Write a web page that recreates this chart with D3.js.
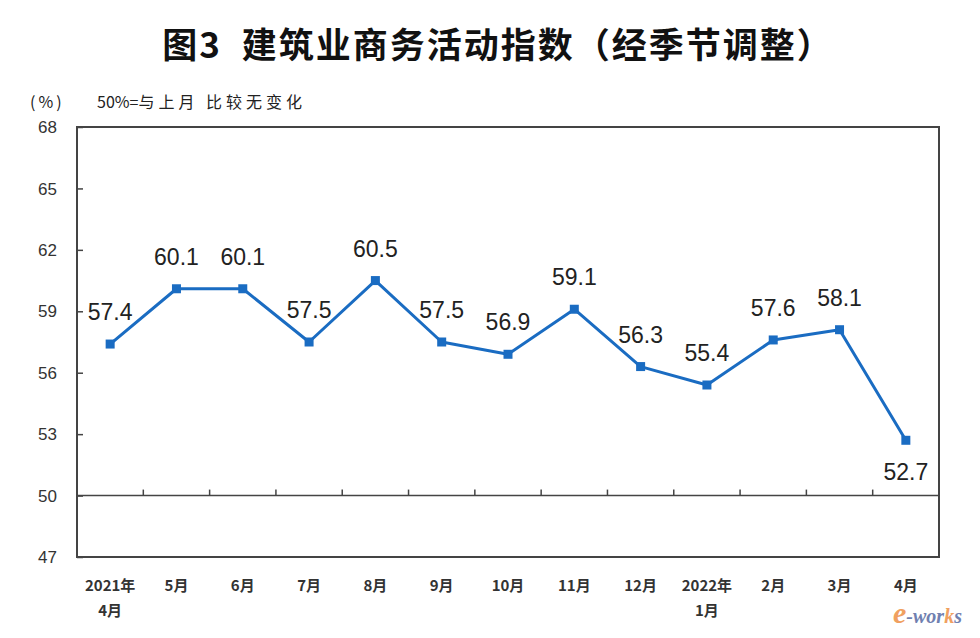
<!DOCTYPE html>
<html>
<head>
<meta charset="utf-8">
<script src="https://cdn.jsdelivr.net/npm/d3@7"></script>
<style>
  body { margin: 0; background: #fff; }
  svg { display: block; }
</style>
</head>
<body>
<svg id="chart"></svg>
<script>
/////////////// Data ///////////////
const months = ["2021年|4月", "5月", "6月", "7月", "8月", "9月", "10月", "11月", "12月", "2022年|1月", "2月", "3月", "4月"];
const values = [57.4, 60.1, 60.1, 57.5, 60.5, 57.5, 56.9, 59.1, 56.3, 55.4, 57.6, 58.1, 52.7];
const labelSide = ["up", "up", "up", "up", "up", "up", "up", "up", "up", "up", "up", "up", "down"];
const yTicks = [47, 50, 53, 56, 59, 62, 65, 68];

/////////////// Constants ///////////////
const width = 980;
const height = 638;
const margin = { top: 127, right: 41, bottom: 81, left: 77 };
const lineColour = "#1a6cc2";
const axisColour = "#444";
const textColour = "#222";

const svg = d3.select("#chart").attr("width", width).attr("height", height);

// Title
svg.append("text")
  .attr("x", 498).attr("y", 58)
  .attr("text-anchor", "middle")
  .attr("font-family", "Noto Sans CJK SC")
  .attr("font-weight", "bold")
  .attr("font-size", 35)
  .attr("letter-spacing", 2)
  .attr("fill", "#111")
  .text("图3\u00a0\u00a0建筑业商务活动指数（经季节调整）");

// unit note
svg.append("text")
  .attr("x", 30).attr("y", 108)
  .attr("font-family", "Noto Sans CJK SC")
  .attr("font-size", 16)
  .attr("fill", textColour)
  .text("(%)")
  .attr("letter-spacing", 3);
svg.append("text")
  .attr("x", 97).attr("y", 108)
  .attr("font-family", "Noto Sans CJK SC")
  .attr("font-size", 16)
  .attr("fill", textColour)
  .call(t => t.append("tspan").text("50%="))
  .call(t => t.append("tspan").attr("letter-spacing", 4).text("与上月\u00a0比较无变化"));

/// Scales ///
const xScale = d3.scaleBand()
  .domain(months)
  .range([margin.left, width - margin.right]);

const yScale = d3.scaleLinear()
  .domain([47, 68])
  .range([height - margin.bottom, margin.top]);

const cx = d => xScale(d) + xScale.bandwidth() / 2;

/// Y axis: inward ticks, labels outside ///
const yAxis = g => g
  .attr("transform", `translate(${margin.left},0)`)
  .call(d3.axisRight(yScale).tickValues(yTicks).tickSize(6).tickFormat(""))
  .call(g => g.select(".domain").remove())
  .call(g => g.selectAll(".tick line").attr("stroke", axisColour).attr("stroke-width", 1.5));
svg.append("g").call(yAxis);

svg.append("g")
  .selectAll("text")
  .data(yTicks)
  .join("text")
    .attr("x", 57)
    .attr("y", d => yScale(d))
    .attr("dy", "0.36em")
    .attr("text-anchor", "end")
    .attr("font-family", "Liberation Sans")
    .attr("font-size", 17)
    .attr("fill", "#333")
    .text(d => d);

// frame
svg.append("rect")
  .attr("x", margin.left).attr("y", margin.top)
  .attr("width", width - margin.left - margin.right)
  .attr("height", height - margin.top - margin.bottom)
  .attr("fill", "none")
  .attr("stroke", axisColour)
  .attr("stroke-width", 2);

/// X axis along the 50 line, ticks between months pointing up ///
const boundaries = months.slice(1).map(m => xScale(m));
const y50 = yScale(50);
svg.append("line")
  .attr("x1", margin.left).attr("x2", width - margin.right)
  .attr("y1", y50).attr("y2", y50)
  .attr("stroke", axisColour).attr("stroke-width", 1.5);
svg.append("g")
  .selectAll("line")
  .data(boundaries)
  .join("line")
    .attr("x1", d => d).attr("x2", d => d)
    .attr("y1", y50).attr("y2", y50 - 6)
    .attr("stroke", axisColour).attr("stroke-width", 1.5);

// month labels below the frame
const monthLabels = svg.append("g")
  .selectAll("text")
  .data(months)
  .join("text")
    .attr("x", d => cx(d))
    .attr("y", 591)
    .attr("text-anchor", "middle")
    .attr("font-family", "Noto Sans CJK SC")
    .attr("font-size", 15)
    .attr("font-weight", "bold")
    .attr("fill", "#333");
monthLabels.each(function (d) {
  const parts = d.split("|");
  d3.select(this).selectAll("tspan")
    .data(parts)
    .join("tspan")
      .attr("x", cx(d))
      .attr("dy", (p, i) => i === 0 ? 0 : 25)
      .text(p => p);
});

/// Line + markers ///
const points = months.map((m, i) => ({ month: m, value: values[i], side: labelSide[i] }));

const line = d3.line()
  .x(d => cx(d.month))
  .y(d => yScale(d.value));

svg.append("path")
  .datum(points)
  .attr("d", line)
  .attr("fill", "none")
  .attr("stroke", lineColour)
  .attr("stroke-width", 3)
  .attr("stroke-linejoin", "round");

svg.append("g")
  .selectAll("rect")
  .data(points)
  .join("rect")
    .attr("x", d => cx(d.month) - 4.5)
    .attr("y", d => yScale(d.value) - 4.5)
    .attr("width", 9)
    .attr("height", 9)
    .attr("fill", lineColour);

// value labels
svg.append("g")
  .selectAll("text")
  .data(points)
  .join("text")
    .attr("x", d => cx(d.month))
    .attr("y", d => yScale(d.value) + (d.side === "up" ? -24 : 40))
    .attr("text-anchor", "middle")
    .attr("font-family", "Liberation Sans")
    .attr("font-size", 23)
    .attr("fill", textColour)
    .text(d => d.value.toFixed(1));

// watermark
const wm = svg.append("text")
  .attr("x", 893).attr("y", 623)
  .attr("font-family", "Liberation Serif")
  .attr("font-style", "italic")
  .attr("font-weight", "bold")
  .attr("font-size", 20);
wm.append("tspan").attr("fill", "#f0a060").attr("font-size", 30).text("e");
wm.append("tspan").attr("fill", "#7080b0").text("-wor");
wm.append("tspan").attr("fill", "#f0a060").text("k");
wm.append("tspan").attr("fill", "#7080b0").text("s");
</script>
</body>
</html>
